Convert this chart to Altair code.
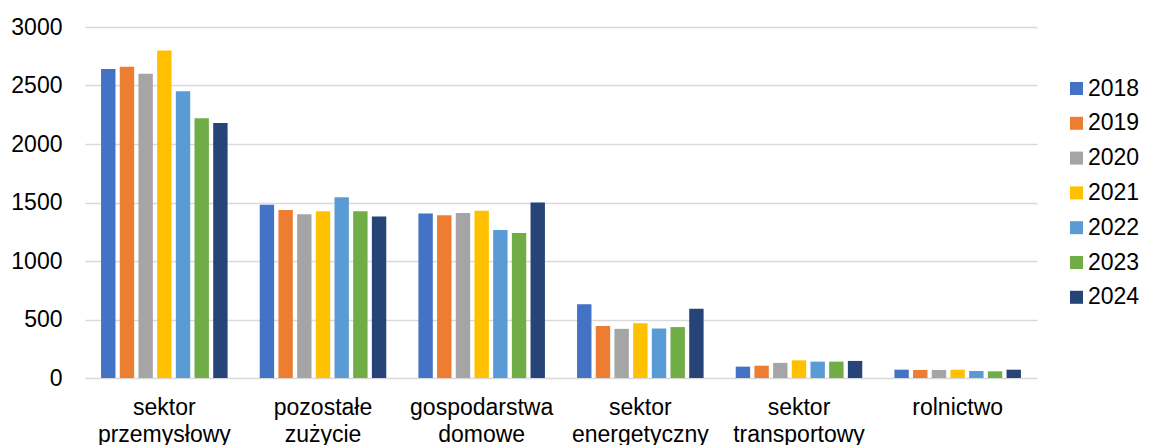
import altair as alt
import pandas as pd

categories = ["sektor przemysłowy", "pozostałe zużycie", "gospodarstwa domowe",
              "sektor energetyczny", "sektor transportowy", "rolnictwo"]
years = ["2018", "2019", "2020", "2021", "2022", "2023", "2024"]
v2018 = [2640, 1480, 1405, 630, 97, 71]
v2019 = [2660, 1435, 1390, 445, 105, 69]
v2020 = [2600, 1400, 1410, 420, 129, 69]
v2021 = [2800, 1425, 1430, 468, 151, 71]
v2022 = [2450, 1545, 1265, 423, 140, 60]
v2023 = [2220, 1425, 1240, 435, 140, 57]
v2024 = [2180, 1380, 1500, 592, 146, 71]
colors = ["#4472C4", "#ED7D31", "#A5A5A5", "#FFC000", "#5B9BD5", "#70AD47", "#264478"]
y_ticks = [0, 500, 1000, 1500, 2000, 2500, 3000]

series = [v2018, v2019, v2020, v2021, v2022, v2023, v2024]
rows = []
for yr, vals in zip(years, series):
    for cat, v in zip(categories, vals):
        rows.append({"kategoria": cat, "rok": yr, "wartosc": v})
df = pd.DataFrame(rows)

FONT = "Liberation Sans"

chart = alt.Chart(df).mark_bar().encode(
    x=alt.X("kategoria:N", sort=categories, title=None,
            scale=alt.Scale(paddingInner=0, paddingOuter=0),
            axis=alt.Axis(labelAngle=0, labelFont=FONT, labelFontSize=23,
                          labelColor="#000000", labelPadding=18,
                          labelLineHeight=27, ticks=False, domain=False,
                          labelLimit=300,
                          labelExpr="split(datum.label, ' ')")),
    xOffset=alt.XOffset("rok:N", sort=years,
                        scale=alt.Scale(paddingInner=0.23, paddingOuter=0.86)),
    y=alt.Y("wartosc:Q", title=None,
            scale=alt.Scale(domain=[0, 3000], nice=False),
            axis=alt.Axis(values=y_ticks, format="d", labelFont=FONT,
                          labelFontSize=23, labelColor="#000000",
                          labelPadding=23, ticks=False, domain=False,
                          gridColor="#d9d9d9", gridWidth=1.4)),
    color=alt.Color("rok:N", sort=years,
                    scale=alt.Scale(domain=years, range=colors),
                    legend=alt.Legend(title=None, orient="none", legendX=980,
                                      legendY=50, symbolType="square",
                                      symbolSize=169, symbolStrokeWidth=0,
                                      labelFont=FONT, labelFontSize=23,
                                      labelColor="#000000", rowPadding=10.8,
                                      labelOffset=0, labelLimit=200)),
).properties(
    width=952, height=351,
    autosize=alt.AutoSizeParams(type="none"),
    padding={"left": 77, "top": 19, "right": 104, "bottom": 67},
).configure_view(stroke=None)

chart.save("out.html", embed_options={"renderer": "svg", "actions": False})
